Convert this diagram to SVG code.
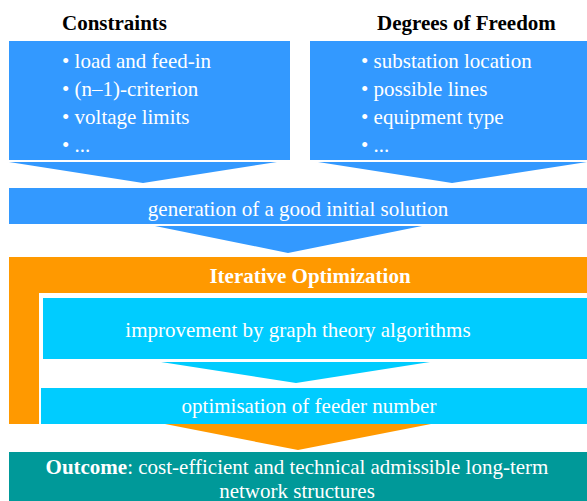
<svg xmlns="http://www.w3.org/2000/svg" width="587" height="501" viewBox="0 0 587 501">
  <style>
    text { font-family: "Liberation Serif", "Times New Roman", serif; font-size: 21px; }
    .title { font-weight: bold; fill: #000; }
    .light { fill: #fff; }
    .bold { font-weight: bold; }
    .mid { text-anchor: middle; }
    .blue { fill: #3399ff; }
    .cyan { fill: #00ccff; }
    .orange { fill: #ff9900; }
    .teal { fill: #009999; }
  </style>

  <!-- input boxes -->
  <g id="constraints">
    <text class="title" x="62" y="30">Constraints</text>
    <rect class="blue" x="9" y="41" width="281" height="119"/>
    <text class="light" x="62" y="68">• load and feed-in</text>
    <text class="light" x="62" y="96">• (n–1)-criterion</text>
    <text class="light" x="62" y="124">• voltage limits</text>
    <text class="light" x="62" y="152">• ...</text>
  </g>

  <g id="degrees-of-freedom">
    <text class="title" x="377" y="30">Degrees of Freedom</text>
    <rect class="blue" x="310" y="41" width="277" height="119"/>
    <text class="light" x="361" y="68">• substation location</text>
    <text class="light" x="361" y="96">• possible lines</text>
    <text class="light" x="361" y="124">• equipment type</text>
    <text class="light" x="361" y="152">• ...</text>
  </g>

  <g id="initial-solution">
    <rect class="blue" x="9" y="188" width="578" height="36"/>
    <text class="light mid" x="298" y="216">generation of a good initial solution</text>
  </g>

  <!-- optimisation loop frame -->
  <g id="iterative-optimization">
    <path class="orange" d="M9 257 H587 V293 H39 V424 H9 Z"/>
    <text class="light bold mid" x="310" y="283">Iterative Optimization</text>
  </g>

  <g id="graph-theory">
    <rect class="cyan" x="43" y="298" width="544" height="61"/>
    <text class="light mid" x="298" y="337">improvement by graph theory algorithms</text>
  </g>

  <g id="feeder-number">
    <rect class="cyan" x="41" y="388" width="546" height="36"/>
    <text class="light mid" x="309" y="413">optimisation of feeder number</text>
  </g>

  <g id="outcome">
    <rect class="teal" x="9" y="452" width="578" height="49"/>
    <text class="light mid" x="297" y="474"><tspan class="bold">Outcome</tspan>: cost-efficient and technical admissible long-term</text>
    <text class="light mid" x="297" y="498">network structures</text>
  </g>

  <!-- flow arrows between stages -->
  <g id="connectors">
    <polygon class="blue" points="9,162 277,162 143,183"/>
    <polygon class="blue" points="318,162 587,162 452,183"/>
    <polygon class="blue" points="155,226 422,226 288,253"/>
    <polygon class="cyan" points="161,362 430,362 296,383"/>
    <polygon class="orange" points="165,424 431,424 298,450"/>
  </g>
</svg>
